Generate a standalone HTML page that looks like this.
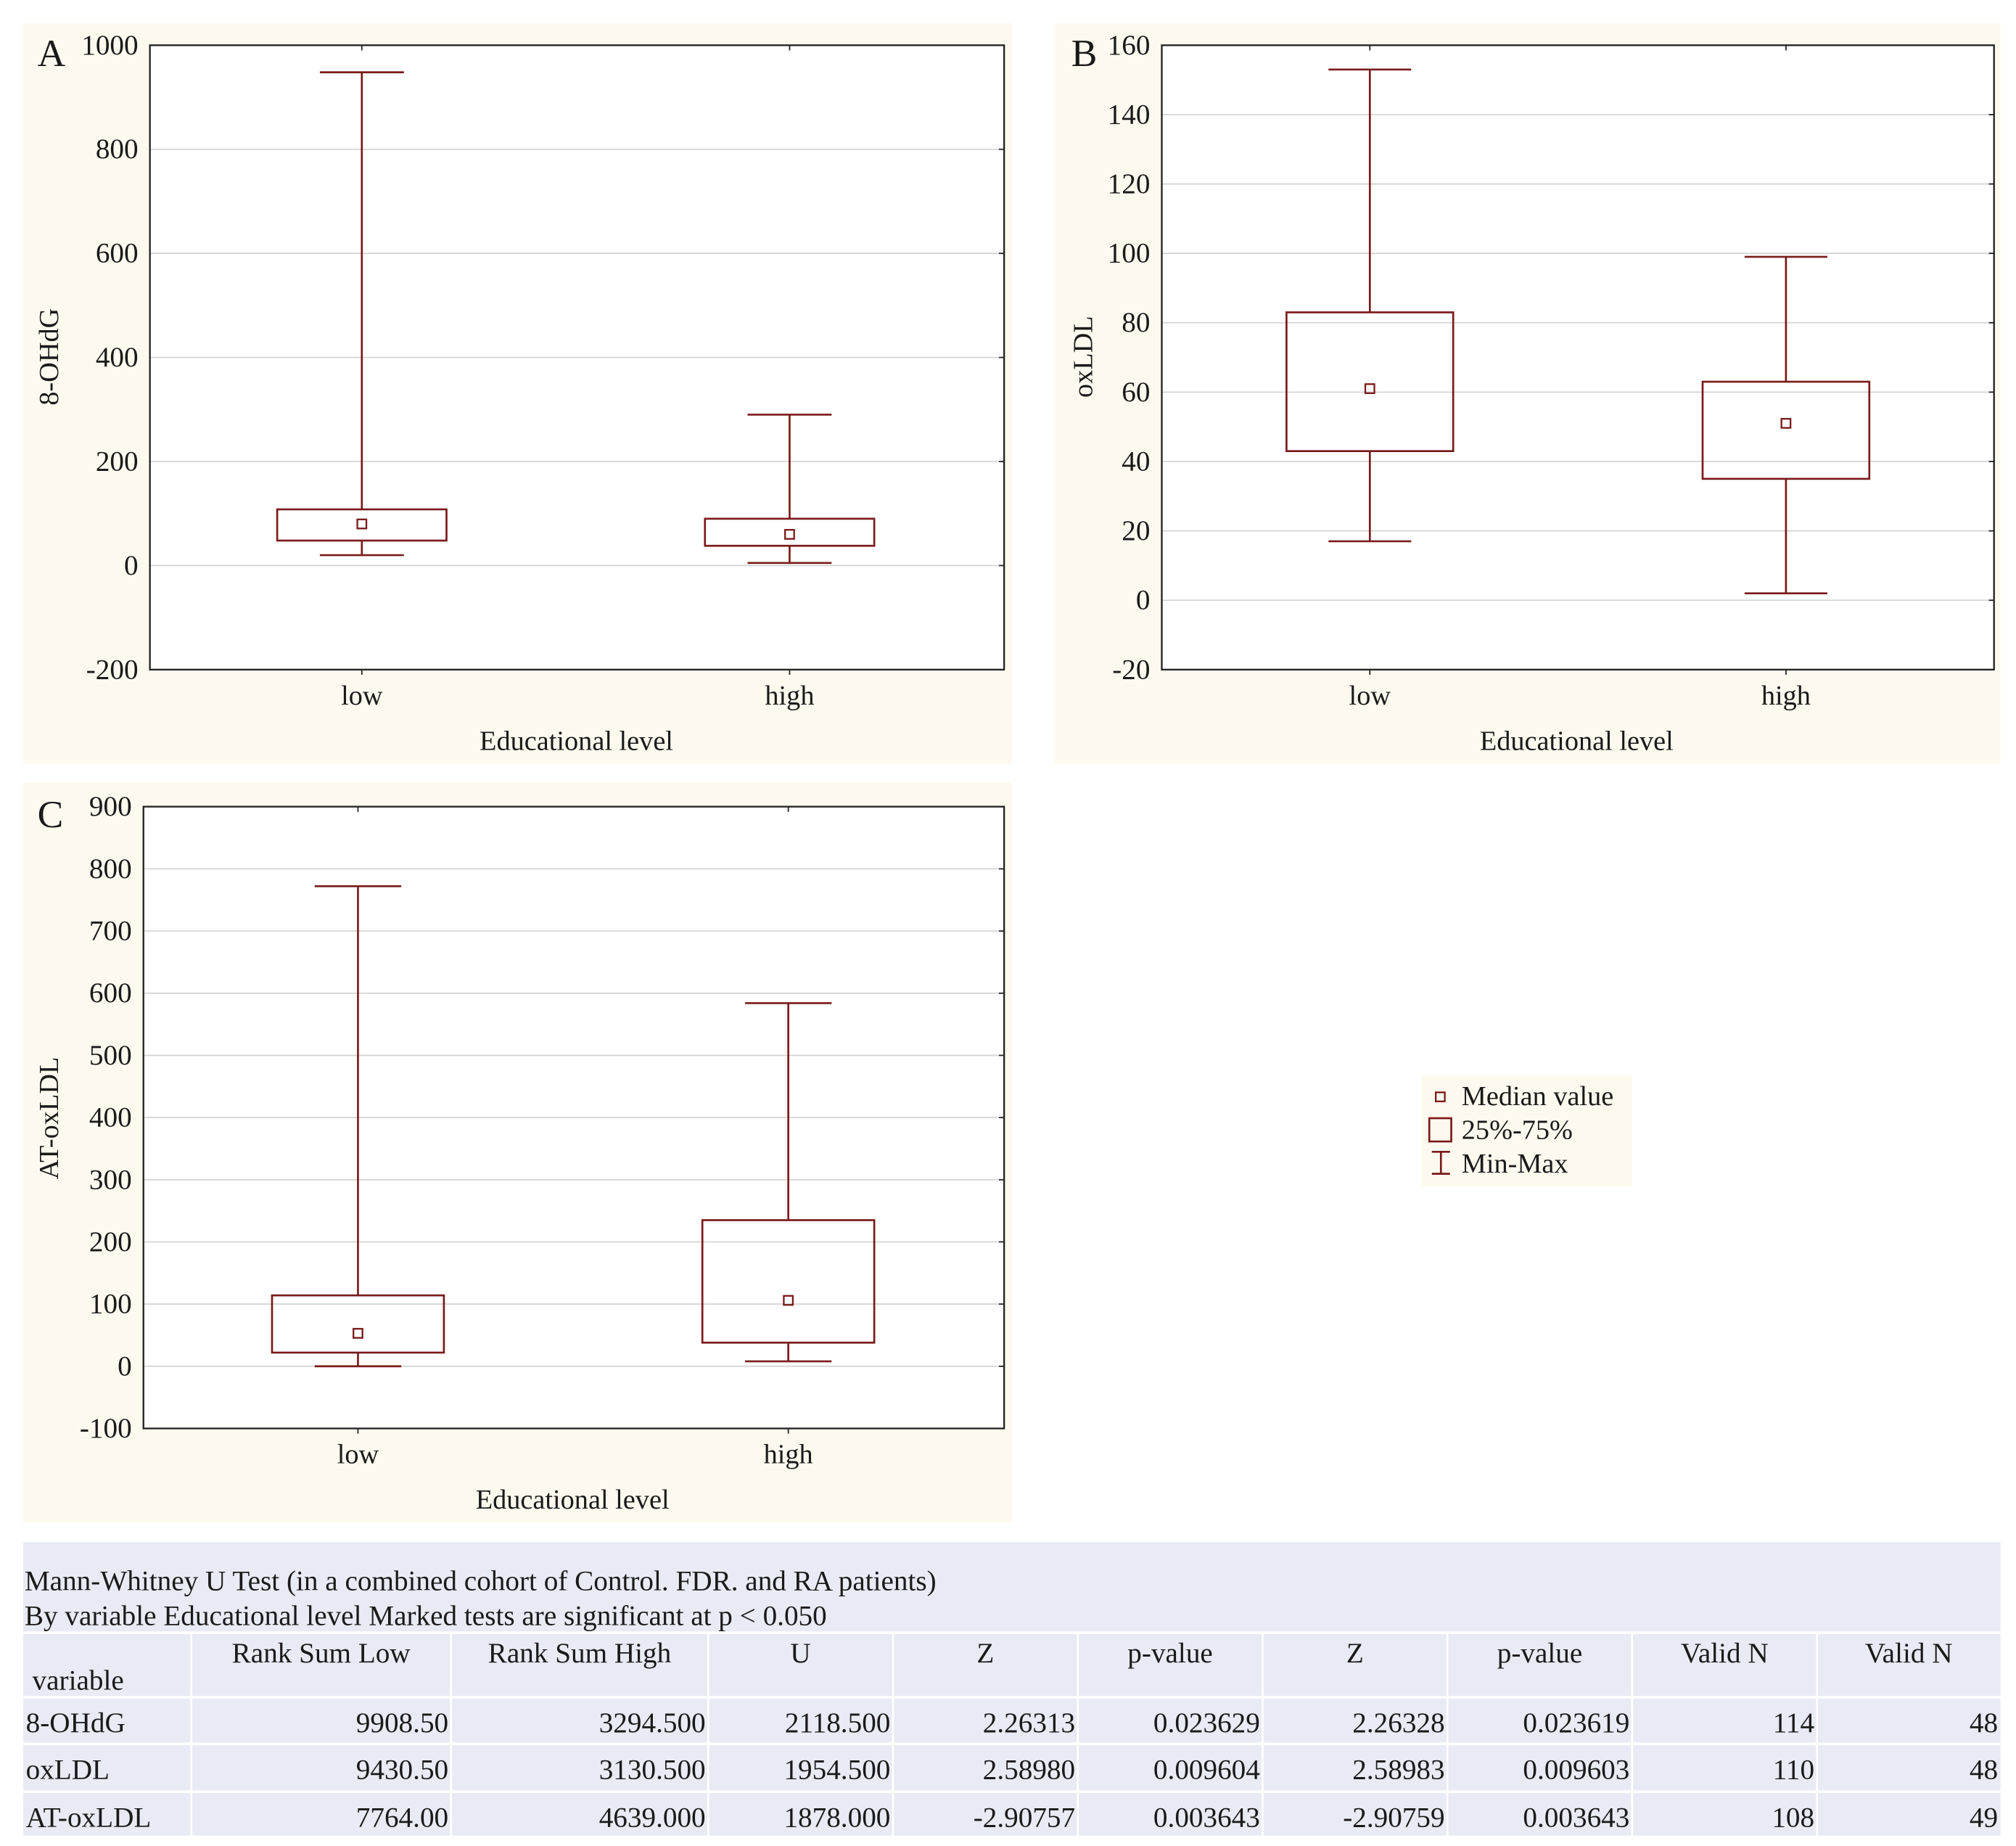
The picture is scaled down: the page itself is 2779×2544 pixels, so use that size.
<!DOCTYPE html>
<html><head><meta charset="utf-8">
<style>
html,body{margin:0;padding:0;background:#fff;}
svg{display:block;}
text{font-family:"Liberation Serif",serif;fill:#1a1a1a;}
</style></head>
<body>
<svg id="root" width="2779" height="2544" viewBox="0 0 1560 1428" preserveAspectRatio="none" xmlns="http://www.w3.org/2000/svg"></svg>
<script>
// ---- data ----
const categories = ["low", "high"];
// Panel A: 8-OHdG
const aMin = [20, 5];
const aQ1 = [48, 38];
const aMedian = [80, 60];
const aQ3 = [108, 90];
const aMax = [948, 290];
const aTicks = [-200, 0, 200, 400, 600, 800, 1000];
// Panel B: oxLDL
const bMin = [17, 2];
const bQ1 = [43, 35];
const bMedian = [61, 51];
const bQ3 = [83, 63];
const bMax = [153, 99];
const bTicks = [-20, 0, 20, 40, 60, 80, 100, 120, 140, 160];
// Panel C: AT-oxLDL
const cMin = [0, 8];
const cQ1 = [22, 38];
const cMedian = [53, 106];
const cQ3 = [114, 235];
const cMax = [772, 584];
const cTicks = [-100, 0, 100, 200, 300, 400, 500, 600, 700, 800, 900];
// Table
const tableHeaders = ["Rank Sum Low", "Rank Sum High", "U", "Z", "p-value", "Z", "p-value", "Valid N", "Valid N"];
const tableVars = ["8-OHdG", "oxLDL", "AT-oxLDL"];
const tableRows = [
  ["9908.50", "3294.500", "2118.500", "2.26313", "0.023629", "2.26328", "0.023619", "114", "48"],
  ["9430.50", "3130.500", "1954.500", "2.58980", "0.009604", "2.58983", "0.009603", "110", "48"],
  ["7764.00", "4639.000", "1878.000", "-2.90757", "0.003643", "-2.90759", "0.003643", "108", "49"]
];

const NS = "http://www.w3.org/2000/svg";
const root = document.getElementById("root");
const RED = "#7a1a1a";
function mk(tag, attrs, parent, txt) {
  const e = document.createElementNS(NS, tag);
  for (const k in attrs) e.setAttribute(k, attrs[k]);
  if (txt !== undefined) e.textContent = txt;
  (parent || root).appendChild(e);
  return e;
}

function panel(cfg) {
  const g = mk("g", {});
  
  
  const bg = mk("rect", {x: cfg.bx, y: cfg.by, width: cfg.bw, height: cfg.bh, fill: "#fdf9ee"}, g);
  
  
  const p = cfg.plot;
  mk("rect", {x: p.x0, y: p.y0, width: p.x1 - p.x0, height: p.y1 - p.y0, fill: "#fff"}, g);
  const lo = cfg.ticks[0], hi = cfg.ticks[cfg.ticks.length - 1];
  const yS = v => p.y1 - (v - lo) / (hi - lo) * (p.y1 - p.y0);
  const xS = i => cfg.cx[i];
  cfg.ticks.forEach(t => {
    const y = yS(t);
    if (t !== lo && t !== hi) {
      const gl = mk("line", {x1: p.x0, x2: p.x1, y1: y, y2: y, stroke: "#d4d4d4", "stroke-width": 1}, g);
      
      
    }
    mk("line", {x1: p.x1 - 4, x2: p.x1, y1: y, y2: y, stroke: "#222", "stroke-width": 1}, g);
    const tl = mk("text", {x: p.x0 - 9, y: y + 7, "text-anchor": "end", "font-size": 22}, g, String(t));
    
    
  });
  const fr = mk("rect", {x: p.x0, y: p.y0, width: p.x1 - p.x0, height: p.y1 - p.y0, fill: "none", stroke: "#222", "stroke-width": 1.3}, g);
  
  
  categories.forEach((c, i) => {
    const x = xS(i);
    mk("line", {x1: x, x2: x, y1: p.y0, y2: p.y0 + 4, stroke: "#222"}, g);
    mk("line", {x1: x, x2: x, y1: p.y1, y2: p.y1 + 4, stroke: "#222"}, g);
    const hb = cfg.boxW / 2, hc = cfg.capW / 2;
    const wk = mk("path", {d: `M${x - hc} ${yS(cfg.max[i])}H${x + hc}M${x} ${yS(cfg.max[i])}V${yS(cfg.q3[i])}M${x} ${yS(cfg.q1[i])}V${yS(cfg.min[i])}M${x - hc} ${yS(cfg.min[i])}H${x + hc}`, stroke: RED, "stroke-width": 1.5, fill: "none"}, g);
    
    
    const bx = mk("rect", {x: x - hb, y: yS(cfg.q3[i]), width: cfg.boxW, height: yS(cfg.q1[i]) - yS(cfg.q3[i]), fill: "none", stroke: RED, "stroke-width": 1.5}, g);
    
    
    const md = mk("rect", {x: x - 3.5, y: yS(cfg.med[i]) - 3.5, width: 7, height: 7, fill: "none", stroke: RED, "stroke-width": 1.3}, g);
    
    
    const xl = mk("text", {x: x, y: p.y1 + 27, "text-anchor": "middle", "font-size": 21.5}, g, c);
    
    
  });
  const xt = mk("text", {x: cfg.xtX, y: p.y1 + 62, "text-anchor": "middle", "font-size": 21.5}, g, "Educational level");
  
  
  const ty = cfg.ytY;
  const yt = mk("text", {x: cfg.ytX, y: ty, "text-anchor": "middle", "font-size": 21.5, transform: `rotate(-90 ${cfg.ytX} ${ty})`}, g, cfg.ytitle);
  
  
  const lt = mk("text", {x: cfg.letX, y: p.y0 + 16, "font-size": 30}, g, cfg.letter);
  
  
}

panel({name: "panel-a-8ohdg", bx: 18, by: 18, bw: 765, bh: 573, plot: {x0: 116, x1: 777, y0: 35, y1: 518},
  ticks: aTicks, cx: [280, 611], boxW: 131, capW: 65, min: aMin, q1: aQ1, med: aMedian, q3: aQ3, max: aMax,
  xtX: 446, ytX: 45, ytY: 276, ytitle: "8-OHdG", letter: "A", letX: 29});
panel({name: "panel-b-oxldl", bx: 816, by: 18, bw: 732, bh: 573, plot: {x0: 899, x1: 1543, y0: 35, y1: 518},
  ticks: bTicks, cx: [1060, 1382], boxW: 129, capW: 64, min: bMin, q1: bQ1, med: bMedian, q3: bQ3, max: bMax,
  xtX: 1220, ytX: 845, ytY: 276, ytitle: "oxLDL", letter: "B", letX: 829});
panel({name: "panel-c-at-oxldl", bx: 18, by: 605, bw: 765, bh: 573, plot: {x0: 111, x1: 777, y0: 624, y1: 1105},
  ticks: cTicks, cx: [277, 610], boxW: 133, capW: 67, min: cMin, q1: cQ1, med: cMedian, q3: cQ3, max: cMax,
  xtX: 443, ytX: 45, ytY: 865, ytitle: "AT-oxLDL", letter: "C", letX: 29});

// legend
const lg = mk("g", {});


mk("rect", {x: 1100, y: 832, width: 163, height: 86, fill: "#fdf9ee"}, lg);
mk("rect", {x: 1111, y: 845, width: 7, height: 7, fill: "none", stroke: RED, "stroke-width": 1.3}, lg);
mk("rect", {x: 1106, y: 865, width: 17, height: 18, fill: "none", stroke: RED, "stroke-width": 1.5}, lg);
mk("path", {d: "M1108 891H1122M1115 891V908M1108 908H1122", stroke: RED, "stroke-width": 1.5, fill: "none"}, lg);
[["Median value", 855, "legend-entry-median"], ["25%-75%", 881, "legend-entry-iqr"], ["Min-Max", 907, "legend-entry-minmax"]].forEach(e => {
  const t = mk("text", {x: 1131, y: e[1], "font-size": 21.5}, lg, e[0]);
  
  
});

// table
const tg = mk("g", {});


mk("rect", {x: 18, y: 1193, width: 1530, height: 228, fill: "#e8ebf4"}, tg);
const t1 = mk("text", {x: 19, y: 1230, "font-size": 22}, tg, "Mann-Whitney  U Test (in  a combined cohort of Control. FDR. and RA patients)");


const t2 = mk("text", {x: 19, y: 1257, "font-size": 22}, tg, "By variable  Educational level  Marked tests are significant  at p < 0.050");


const colX = [18, 148, 349, 548, 691, 834, 977, 1120, 1263, 1406, 1548];
const rowY = [1263, 1313, 1349, 1386, 1421];
rowY.forEach(y => mk("line", {x1: 18, x2: 1548, y1: y, y2: y, stroke: "#fff", "stroke-width": 2}, tg));
colX.slice(1, -1).forEach(x => mk("line", {x1: x, x2: x, y1: 1263, y2: 1421, stroke: "#fff", "stroke-width": 1.5}, tg));
const vh = mk("text", {x: 25, y: 1307, "font-size": 22}, tg, "variable");


tableHeaders.forEach((h, i) => {
  const t = mk("text", {x: (colX[i + 1] + colX[i + 2]) / 2, y: 1286, "text-anchor": "middle", "font-size": 22}, tg, h);
  
  
});
tableVars.forEach((v, r) => {
  const y = rowY[r + 1] + 27;
  const t = mk("text", {x: 20, y: y, "font-size": 22}, tg, v);
  
  
  tableRows[r].forEach((c, i) => {
    const tc = mk("text", {x: colX[i + 2] - 2, y: y, "text-anchor": "end", "font-size": 22}, tg, c);
    
    
  });
});
</script>
</body></html>
